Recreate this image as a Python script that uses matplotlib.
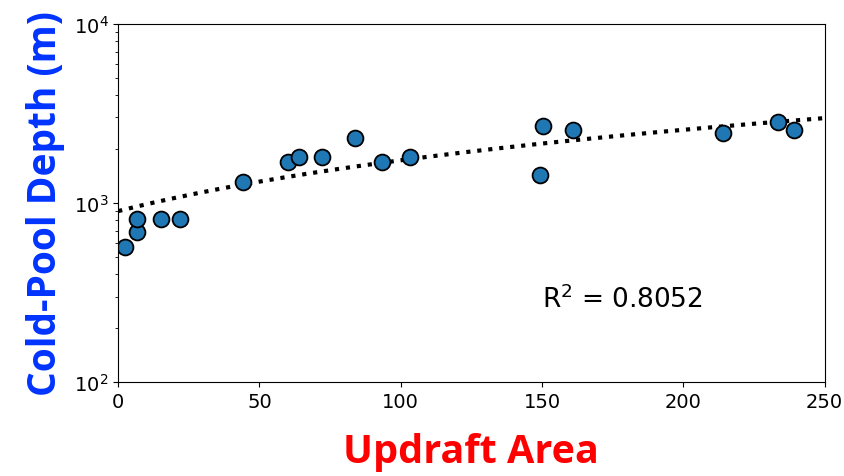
import numpy as np
import matplotlib.pyplot as plt

# data
updraft_area = [2.5, 6.7, 6.7, 15.2, 22.0, 44.3, 60.2, 64.1, 72.2, 83.9,
                93.5, 103.4, 149.4, 150.5, 160.8, 214.2, 233.4, 239.0]
pool_depth = [568, 688, 815, 815, 815, 1310, 1695, 1807, 1807, 2307,
              1695, 1807, 1433, 2692, 2557, 2461, 2836, 2557]

# fitted trend line (intercept, slope) and its score
fit_intercept = 900.0
fit_slope = 8.3
r_squared = 0.8052

fig, ax = plt.subplots(figsize=(8.44, 4.77), dpi=100)
fig.subplots_adjust(left=0.14, right=0.977, top=0.948, bottom=0.197)

xfit = np.linspace(0, 250, 200)
ax.plot(xfit, fit_intercept + fit_slope * xfit, ':', color='black', lw=3, zorder=1)
ax.scatter(updraft_area, pool_depth, s=130, color='#1f77b4', edgecolor='black',
           linewidth=1.3, zorder=2)

ax.set_yscale('log')
ax.set_xlim(0, 250)
ax.set_ylim(100, 10000)
ax.set_xticks([0, 50, 100, 150, 200, 250])
ax.tick_params(labelsize=14)

ax.text(150, 290, 'R$^2$ = %.4f' % r_squared, fontsize=19, va='center')

ax.set_xlabel('Updraft Area', fontsize=28.5, fontweight='bold', color='red',
              family='Open Sans', labelpad=15)
ax.set_ylabel('Cold-Pool Depth (m)', fontsize=28, fontweight='bold', color='#0033ff',
              family='Open Sans', labelpad=6)

fig.savefig('out.png', dpi=100)
